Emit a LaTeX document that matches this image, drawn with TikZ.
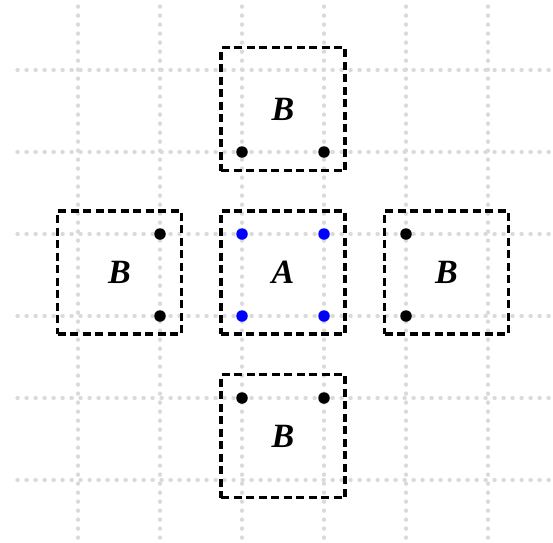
\documentclass[tikz,border=0pt]{standalone}
\usepackage{fontspec}
\setmainfont{Liberation Serif}
\begin{document}
\begin{tikzpicture}[x=1pt,y=-1pt,
  gridline/.style={draw={rgb,255:red,218;green,218;blue,218},line width=3.2pt,line cap=round,dash pattern=on 1.2pt off 7.8pt},
  region/.style={draw=black,line width=3.2pt,dash pattern=on 8pt off 4.5pt,rectangle,minimum width=124pt,minimum height=123pt,inner sep=0pt,font=\fontsize{34}{38}\selectfont\bfseries\itshape},
  blackdot/.style={circle,fill=black,inner sep=0pt,minimum size=11.5pt},
  bluedot/.style={circle,fill=blue,inner sep=0pt,minimum size=11.5pt}]
\useasboundingbox (0,0) rectangle (553,542);
\foreach \g in {78,160,242,324,406,488} {
  \draw[gridline] (\g,6) -- (\g,540);
}
\foreach \g in {70,152,234,316,398,480} {
  \draw[gridline] (17,\g) -- (551,\g);
}
\node[region] (top) at (283,109) {B};
\node[region] (ctr) at (283,272.5) {A};
\node[region] (lft) at (119.5,272.5) {B};
\node[region] (rgt) at (446.5,272.5) {B};
\node[region] (bot) at (283,436) {B};
\node[blackdot] (t1) at (242,152) {};
\node[blackdot] (t2) at (324,152) {};
\node[bluedot] (c1) at (242,234) {};
\node[bluedot] (c2) at (324,234) {};
\node[bluedot] (c3) at (242,316) {};
\node[bluedot] (c4) at (324,316) {};
\node[blackdot] (l1) at (160,234) {};
\node[blackdot] (l2) at (160,316) {};
\node[blackdot] (r1) at (406,234) {};
\node[blackdot] (r2) at (406,316) {};
\node[blackdot] (b1) at (242,398) {};
\node[blackdot] (b2) at (324,398) {};
\end{tikzpicture}
\end{document}
